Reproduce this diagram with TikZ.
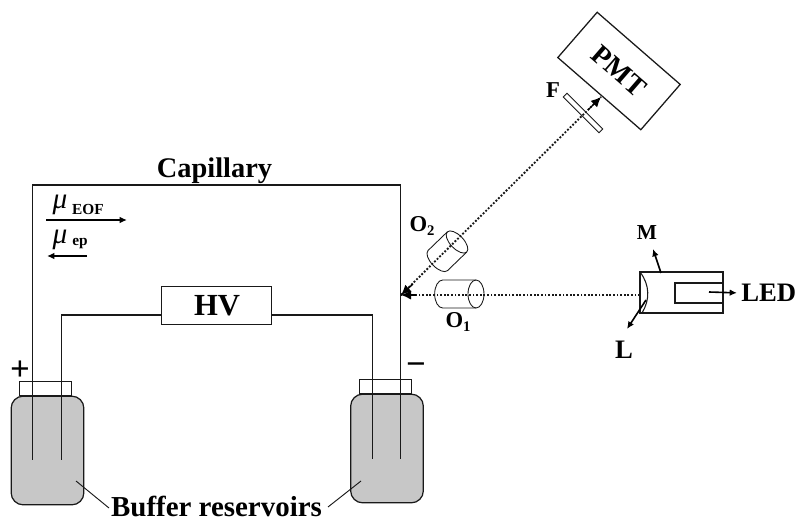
\documentclass[tikz,border=0pt]{standalone}
\usepackage{fontspec}
\setmainfont{Liberation Serif}
\usetikzlibrary{arrows.meta}
\newcommand{\subbold}[1]{\raisebox{-3.5pt}{\fontsize{11}{11}\selectfont #1}}
\begin{document}
\begin{tikzpicture}[x=0.75pt,y=-0.75pt,
  wire/.style={draw=black!90,line width=0.8pt},
  lbl/.style={inner sep=0pt,font=\bfseries\fontsize{#1}{#1}\selectfont},
  bottle/.style={draw=black!90,fill=black!22,line width=0.9pt,rounded corners=9pt,minimum width=54.5pt,minimum height=81.5pt,inner sep=0pt},
  neck/.style={draw=black!90,fill=white,line width=0.8pt,minimum width=38.5pt,minimum height=11pt,inner sep=0pt},
  box/.style={draw=black!90,line width=0.95pt,inner sep=0pt},
  beam/.style={line width=1.4pt,dash pattern=on 1.4pt off 1.3pt,black!90},
  tip/.style={-{Latex[length=7.5pt,width=7pt]},line width=1pt},
  smalltip/.style={-{Latex[length=5.5pt,width=5pt]},line width=1.2pt,black},
  leader/.style={draw=black!90,line width=0.7pt}]
\useasboundingbox (0,0) rectangle (797,520);
% reservoirs
\node[neck] (neckL) at (45.5,388.5) {};
\node[neck] (neckR) at (385.5,386.5) {};
\node[bottle] (resL) at (47.5,450.5) {};
\node[bottle] (resR) at (387,448.5) {};
% HV
\node[box,minimum width=83pt,minimum height=29pt] (hv) at (216.5,305.5) {};
\node[lbl=23] (hvtext) at (217,306) {HV};
% capillary
\coordinate (capLb) at (32.3,460);
\coordinate (capLt) at (32.3,185);
\coordinate (capRt) at (400.3,185);
\coordinate (capRb) at (400.3,459);
\draw[wire] (capLb) -- (capLt) -- (capRt) -- (capRb);
% electrode wires
\coordinate (elLb) at (61.3,460);
\coordinate (elRb) at (372.3,459);
\draw[wire] (elLb) |- (hv.west |- 0,315);
\draw[wire] (elRb) |- (hv.east |- 0,315);
% labels left
\node[lbl=21.3] (cap) at (214.5,171) {Capillary};
\node[inner sep=0pt,font=\itshape\fontsize{22}{22}\selectfont] (mu1) at (60,205) {μ};
\node[lbl=11.5] (eof) at (88,210) {EOF};
\node[inner sep=0pt,font=\itshape\fontsize{22}{22}\selectfont] (mu2) at (60,240) {μ};
\node[lbl=11.5] (ep) at (80,244) {ep};
\coordinate (a1) at (46,220); \coordinate (a2) at (127,220);
\coordinate (b1) at (87,256); \coordinate (b2) at (47,256);
\draw[smalltip] (a1) -- (a2);
\draw[smalltip] (b1) -- (b2);
\node[lbl=26] (plus) at (20,371) {+};
\node[lbl=26] (minus) at (416,369) {−};
\node[lbl=21.7,anchor=base] (buf) at (216.5,516.5) {Buffer reservoirs};
\coordinate (ll) at (76,481); \coordinate (lr) at (361,481);
\draw[leader] (ll) -- (109,508);
\draw[leader] (lr) -- (328,507);
% PMT
\node[box,rotate=-41,minimum width=82.5pt,minimum height=45pt] (pmt) at (619,71) {};
\node[lbl=21,rotate=-41] (pmttext) at (619,71) {PMT};
% filter
\node[draw=black!90,line width=0.65pt,inner sep=0pt,fill=white,rotate=-45,minimum width=38pt,minimum height=4pt] (filt) at (583,113) {};
\node[lbl=17] (ftext) at (553,90) {F};
% beams
\coordinate (samp) at (401,295);
\coordinate (pmtin) at (601,97);
\coordinate (lens) at (640,295);
\draw[beam] (samp) -- (pmtin);
\draw[beam] (lens) -- (samp);
\coordinate (t1) at (588,110); \coordinate (t2) at (413,284); \coordinate (t3) at (416,295);
\draw[tip] (t1) -- (pmtin);
\draw[tip] (t2) -- (samp);
\draw[tip] (t3) -- (samp);
% objectives
\begin{scope}[shift={(476,294)}]
\draw[line width=0.65pt,black!90] (0,0) ellipse [x radius=6pt,y radius=10.5pt];
\draw[line width=0.65pt,black!90] (0,10.5pt) -- (-25pt,10.5pt) arc[start angle=90,end angle=270,x radius=6pt,y radius=10.5pt] -- (0,-10.5pt);
\end{scope}
\begin{scope}[shift={(457,242)},rotate=44]
\draw[line width=0.65pt,black!90] (0,0) ellipse [x radius=5pt,y radius=10.5pt];
\draw[line width=0.65pt,black!90] (0,10.5pt) -- (-20pt,10.5pt) arc[start angle=90,end angle=270,x radius=5pt,y radius=10.5pt] -- (0,-10.5pt);
\end{scope}
\node[lbl=17] (o1) at (458,322) {O\subbold{1}};
\node[lbl=17] (o2) at (422,226) {O\subbold{2}};
% LED unit
\node[box,line width=1.1pt,minimum width=62pt,minimum height=31pt] (ledbox) at (681.5,292.5) {};
\coordinate (in1) at (723,283); \coordinate (in2) at (675,283); \coordinate (in3) at (675,303); \coordinate (in4) at (723,303);
\draw[wire] (in1) -- (in2) -- (in3) -- (in4);
\draw[wire] (640,272) .. controls (650,285) and (650,300) .. (642,313);
\coordinate (Mfrom) at (661,273); \coordinate (Mto) at (653,249);
\coordinate (Lfrom) at (646,300); \coordinate (Lto) at (627,329);
\coordinate (Efrom) at (709,292); 
\draw[smalltip] (Mfrom) -- (Mto);
\draw[smalltip] (Lfrom) -- (Lto);
\node[lbl=20,anchor=west] (led) at (741,293) {LED};
\draw[smalltip,shorten >=3pt] (Efrom) -- (led.west);
\node[lbl=16] (m) at (647,233) {M};
\node[lbl=20] (l) at (624,350) {L};
\end{tikzpicture}
\end{document}
